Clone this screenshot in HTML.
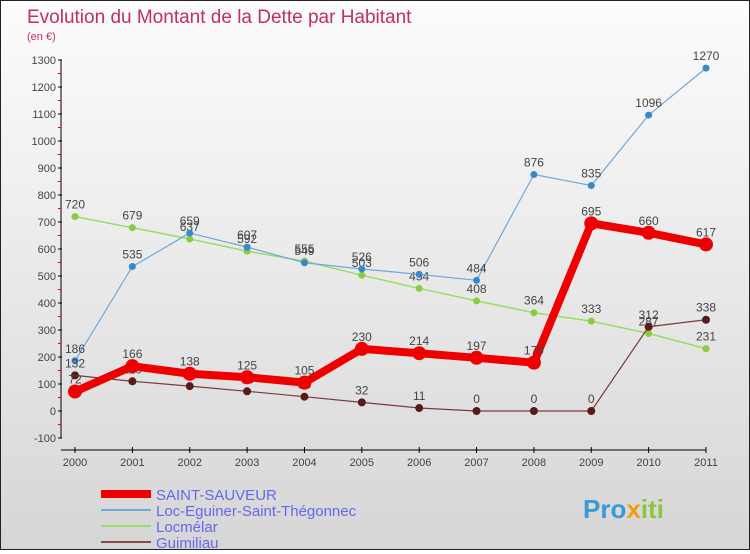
<!DOCTYPE html>
<html><head><meta charset="utf-8"><style>
body{margin:0;width:750px;height:550px;overflow:hidden;font-family:"Liberation Sans",sans-serif}
#wrap{position:relative;width:748px;height:548px;border:1px solid #222;background:linear-gradient(#fcfcfc,#d6d6d6)}
</style></head><body>
<div id="wrap">
<svg id="chart" width="748" height="548"></svg>
</div>
<script>
const years=["2000","2001","2002","2003","2004","2005","2006","2007","2008","2009","2010","2011"];
const saintSauveur=[72,166,138,125,105,230,214,197,179,695,660,617];
const locEguiner=[186,535,659,607,549,526,506,484,876,835,1096,1270];
const locmelar=[720,679,637,592,555,503,454,408,364,333,287,231];
const guimiliau=[132,110,92,73,53,32,11,0,0,0,312,338];
const yTicks=[-100,0,100,200,300,400,500,600,700,800,900,1000,1100,1200,1300];
const ns="http://www.w3.org/2000/svg";
const svg=document.getElementById('chart');
const X=i=>74+i*(631/11);
const Y=v=>410-v*0.27;
function mk(t,a,p){const e=document.createElementNS(ns,t);for(const k in a)e.setAttribute(k,a[k]);(p||svg).appendChild(e);return e;}
let t=mk('text',{x:26,y:22,'font-size':19,fill:'#c0305a'});t.textContent='Evolution du Montant de la Dette par Habitant';


t=mk('text',{x:26,y:39,'font-size':11,fill:'#c0305a'});t.textContent='(en €)';


mk('line',{x1:60,y1:Y(1300),x2:60,y2:Y(-100),stroke:'#000'});
mk('line',{x1:60,y1:449,x2:X(11),y2:449,stroke:'#000'});
yTicks.forEach(v=>{mk('line',{x1:57,y1:Y(v),x2:61,y2:Y(v),stroke:'#000'});
 if(v<1300)mk('line',{x1:57,y1:Y(v+50),x2:60,y2:Y(v+50),stroke:'#e00'});
 const l=mk('text',{x:55,y:Y(v)+4,'font-size':11,fill:'#444','text-anchor':'end'});l.textContent=v;
 
 });
years.forEach((y,i)=>{mk('line',{x1:X(i),y1:446,x2:X(i),y2:452,stroke:'#000'});
 const l=mk('text',{x:X(i),y:465,'font-size':11,fill:'#444','text-anchor':'middle'});l.textContent=y;
 
 });
function series(data,color,w,r,name,dot){
 const g=mk('g',{});
 
 
 mk('polyline',{points:data.map((v,i)=>X(i)+','+Y(v)).join(' '),fill:'none',stroke:color,'stroke-width':w,'stroke-linejoin':'round'},g);
 data.forEach((v,i)=>{const c=mk('circle',{cx:X(i),cy:Y(v),r:r,fill:dot},g);
  
  
  const l=mk('text',{x:X(i),y:Y(v)-8,'font-size':12,fill:'#444','text-anchor':'middle'},g);l.textContent=v;
  
  });
}
series(locmelar,'#99dd66',1.5,3.5,'locmelar-series','#88cc44');
series(locEguiner,'#6fa8dc',1.2,3.5,'loc-eguiner-series','#3a88cc');
series(guimiliau,'#7a3a3a',1.2,4,'guimiliau-series','#5a1a1a');
series(saintSauveur,'#ee0000',8,7,'saint-sauveur-series','#ee0000');
const leg=[["SAINT-SAUVEUR",'#ee0000',8],["Loc-Eguiner-Saint-Thégonnec",'#6fa8dc',2],["Locmélar",'#99dd66',2],["Guimiliau",'#8a4a4a',2]];
leg.forEach((e,i)=>{const g=mk('g',{});
 
 
 const y=493+i*16;mk('line',{x1:100,y1:y,x2:150,y2:y,stroke:e[1],'stroke-width':e[2]},g);
 const l=mk('text',{x:155,y:y+6,'font-size':15,fill:'#6666ee'},g);l.textContent=e[0];});
t=mk('text',{x:582,y:517,'font-size':26,'font-weight':'bold',fill:'#f39c12'});t.innerHTML='<tspan fill="#3a9ad9">Pro</tspan><tspan fill="#f39c12">x</tspan><tspan fill="#8cc63f">iti</tspan>';


</script>
</body></html>
